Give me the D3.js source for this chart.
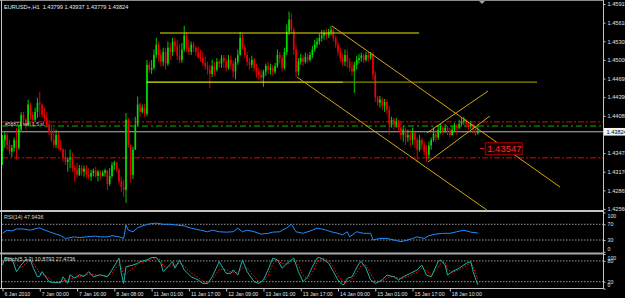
<!DOCTYPE html>
<html><head><meta charset="utf-8">
<script src="https://d3js.org/d3.v7.min.js"></script>
<style>
body{margin:0;background:#000;overflow:hidden}
svg{display:block}
text{font-family:"Liberation Sans",Arial,sans-serif}
</style></head><body>
<svg id="chart" width="625" height="298"></svg>
<script>
// EURUSD+ H1, one value per hourly bar (open = previous close)
var firstOpen = 1.4350
var closes = [
 1.4369,1.4377,1.4361,1.4350,1.4356,1.4369,1.4356,1.4386,1.4410,1.4402,
 1.4394,1.4427,1.4410,1.4402,1.4415,1.4430,1.4427,1.4410,1.4405,1.4394,
 1.4382,1.4369,1.4361,1.4377,1.4356,1.4353,1.4340,1.4333,1.4337,1.4340,
 1.4323,1.4320,1.4312,1.4323,1.4317,1.4322,1.4312,1.4309,1.4315,1.4319,
 1.4310,1.4317,1.4310,1.4315,1.4319,1.4297,1.4310,1.4328,1.4332,1.4320,
 1.4301,1.4292,1.4287,1.4402,1.4361,1.4312,1.4353,1.4394,1.4427,1.4415,
 1.4422,1.4412,1.4492,1.4484,1.4487,1.4508,1.4525,1.4508,1.4497,1.4513,
 1.4494,1.4520,1.4513,1.4530,1.4523,1.4507,1.4500,1.4517,1.4540,1.4520,
 1.4513,1.4525,1.4520,1.4513,1.4505,1.4503,1.4495,1.4489,1.4484,1.4477,
 1.4490,1.4484,1.4497,1.4494,1.4503,1.4497,1.4487,1.4500,1.4494,1.4481,
 1.4497,1.4508,1.4536,1.4520,1.4508,1.4497,1.4492,1.4500,1.4487,1.4481,
 1.4476,1.4471,1.4481,1.4490,1.4484,1.4487,1.4481,1.4490,1.4508,1.4503,
 1.4487,1.4513,1.4546,1.4566,1.4549,1.4517,1.4481,1.4497,1.4503,1.4497,
 1.4505,1.4500,1.4508,1.4517,1.4525,1.4530,1.4536,1.4540,1.4544,1.4540,
 1.4546,1.4549,1.4536,1.4525,1.4513,1.4503,1.4497,1.4508,1.4497,1.4487,
 1.4481,1.4492,1.4500,1.4503,1.4507,1.4500,1.4508,1.4503,1.4510,1.4476,
 1.4438,1.4430,1.4435,1.4425,1.4431,1.4418,1.4394,1.4402,1.4394,1.4399,
 1.4389,1.4377,1.4386,1.4373,1.4377,1.4369,1.4381,1.4369,1.4353,1.4369,
 1.4361,1.4350,1.4345,1.4360,1.4369,1.4379,1.4373,1.4386,1.4389,1.4384,
 1.4389,1.4384,1.4377,1.4386,1.4392,1.4389,1.4395,1.4399,1.4402,1.4395,
 1.4391,1.4395,1.4386,1.43799,1.43824]
var highs = [
 1.4377,1.4382,1.4381,1.4369,1.4361,1.4373,1.4389,1.4394,1.4415,1.4415,
 1.4405,1.4435,1.4430,1.4415,1.4422,1.4438,1.4448,1.4427,1.4422,1.4415,
 1.4402,1.4394,1.4389,1.4386,1.4382,1.4369,1.4356,1.4353,1.4340,1.4353,
 1.4348,1.4328,1.4332,1.4328,1.4328,1.4327,1.4328,1.4323,1.4320,1.4322,
 1.4325,1.4320,1.4319,1.4319,1.4322,1.4320,1.4323,1.4333,1.4335,1.4333,
 1.4323,1.4309,1.4304,1.4413,1.4405,1.4361,1.4358,1.4407,1.4440,1.4430,
 1.4427,1.4428,1.4500,1.4497,1.4500,1.4517,1.4536,1.4530,1.4517,1.4520,
 1.4520,1.4530,1.4528,1.4536,1.4536,1.4533,1.4526,1.4528,1.4556,1.4546,
 1.4533,1.4530,1.4530,1.4523,1.4522,1.4517,1.4513,1.4505,1.4497,1.4492,
 1.4500,1.4497,1.4503,1.4500,1.4508,1.4508,1.4503,1.4508,1.4507,1.4500,
 1.4503,1.4517,1.4546,1.4544,1.4525,1.4513,1.4503,1.4507,1.4503,1.4494,
 1.4487,1.4484,1.4484,1.4494,1.4497,1.4494,1.4492,1.4495,1.4517,1.4513,
 1.4508,1.4520,1.4558,1.4579,1.4576,1.4553,1.4525,1.4503,1.4510,1.4508,
 1.4512,1.4510,1.4513,1.4523,1.4533,1.4536,1.4543,1.4549,1.4549,1.4551,
 1.4551,1.4556,1.4553,1.4540,1.4530,1.4520,1.4510,1.4517,1.4517,1.4503,
 1.4497,1.4497,1.4507,1.4510,1.4512,1.4510,1.4513,1.4513,1.4513,1.4513,
 1.4481,1.4441,1.4441,1.4438,1.4436,1.4435,1.4425,1.4407,1.4405,1.4405,
 1.4402,1.4399,1.4392,1.4389,1.4386,1.4386,1.4389,1.4382,1.4373,1.4377,
 1.4373,1.4366,1.4361,1.4366,1.4373,1.4389,1.4386,1.4392,1.4395,1.4392,
 1.4395,1.4392,1.4389,1.4392,1.4397,1.4395,1.4402,1.4405,1.4407,1.4404,
 1.4399,1.4400,1.4395,1.4392,1.43937]
var lows = [
 1.4328,1.4356,1.4353,1.4345,1.4341,1.4350,1.4337,1.4353,1.4382,1.4394,
 1.4386,1.4391,1.4402,1.4394,1.4399,1.4405,1.4407,1.4405,1.4399,1.4389,
 1.4377,1.4366,1.4356,1.4356,1.4353,1.4350,1.4333,1.4328,1.4317,1.4323,
 1.4317,1.4301,1.4307,1.4310,1.4310,1.4309,1.4307,1.4305,1.4302,1.4309,
 1.4307,1.4301,1.4304,1.4309,1.4309,1.4287,1.4294,1.4307,1.4320,1.4317,
 1.4296,1.4284,1.4276,1.4266,1.4356,1.4299,1.4305,1.4353,1.4391,1.4407,
 1.4412,1.4407,1.4408,1.4479,1.4477,1.4484,1.4503,1.4497,1.4489,1.4490,
 1.4484,1.4490,1.4500,1.4507,1.4513,1.4500,1.4495,1.4495,1.4513,1.4513,
 1.4508,1.4508,1.4513,1.4507,1.4502,1.4497,1.4490,1.4484,1.4476,1.4454,
 1.4472,1.4474,1.4481,1.4487,1.4487,1.4487,1.4481,1.4484,1.4484,1.4471,
 1.4468,1.4492,1.4507,1.4517,1.4503,1.4490,1.4484,1.4487,1.4481,1.4471,
 1.4468,1.4464,1.4456,1.4474,1.4477,1.4476,1.4474,1.4477,1.4487,1.4494,
 1.4481,1.4484,1.4508,1.4541,1.4544,1.4508,1.4472,1.4474,1.4492,1.4490,
 1.4494,1.4495,1.4497,1.4503,1.4513,1.4520,1.4525,1.4530,1.4533,1.4533,
 1.4536,1.4540,1.4530,1.4520,1.4507,1.4497,1.4490,1.4490,1.4487,1.4481,
 1.4474,1.4446,1.4484,1.4494,1.4497,1.4495,1.4497,1.4497,1.4500,1.4468,
 1.4431,1.4425,1.4422,1.4418,1.4415,1.4412,1.4377,1.4389,1.4386,1.4389,
 1.4382,1.4369,1.4366,1.4361,1.4366,1.4359,1.4361,1.4356,1.4332,1.4350,
 1.4353,1.4343,1.4333,1.4337,1.4353,1.4366,1.4366,1.4369,1.4379,1.4377,
 1.4381,1.4377,1.4373,1.4376,1.4382,1.4377,1.4386,1.4391,1.4394,1.4389,
 1.4386,1.4387,1.4379,1.4376,1.43779]

// RSI(14), read at these bar indices
var rsiIdx = [0,2,4,6,9,12,15,16,17,20,23,25,27,29,31,33,36,40,42,45,47,50,52,53,54,56,58,60,63,66,69,72,75,78,81,85,88,90,93,96,99,101,103,105,108,111,114,116,119,122,124,126,129,132,135,137,139,141,144,146,148,149,152,155,158,159,162,165,168,171,174,176,178,181,183,186,189,192,195,198,201,204]
var rsiVal = [47,55,53,58,58,55,60,61,58,51,45,41,34,36,38,36,38,40,38,38,41,38,34,68,55,51,61,66,71,73,70,70,68,66,60,55,51,55,51,50,51,60,51,55,51,45,47,50,51,61,70,51,47,53,60,58,55,51,47,43,51,38,51,47,47,30,34,34,30,26,30,34,38,34,41,45,47,47,51,55,50,47.9436]

// Stochastic(5,3,3): main and signal
var stochIdx = [0,1,4,6,8,10,12,13,15,16,17,20,22,25,26,28,29,31,33,35,37,39,42,45,47,50,51,52,53,56,58,59,62,64,66,68,69,71,73,74,76,78,81,84,86,88,90,93,96,98,99,101,103,105,108,110,112,114,116,118,120,123,125,127,129,131,133,135,136,138,140,142,144,146,147,148,150,153,154,156,158,160,163,165,168,170,172,175,178,180,182,184,187,188,190,191,193,196,199,201,202,204]
var stochMain = [68,88,88,49,68,83,83,63,34,36,49,20,17,17,34,15,40,30,40,35,49,34,40,34,54,88,44,15,63,68,73,78,83,90,90,73,49,63,78,59,83,54,34,25,15,15,34,78,44,44,54,39,83,49,20,15,25,54,88,83,59,78,88,49,20,34,63,88,90,83,73,49,25,10,15,30,34,73,78,59,25,15,25,39,34,25,34,44,54,68,39,34,78,83,68,39,49,59,73,78,49,10.8793]
var stochSignal = [75,80,86,70,60,72,80,76,55,44,42,30,20,17,24,22,28,32,35,37,42,40,38,37,45,70,62,40,42,60,70,74,80,86,89,82,66,60,68,67,74,65,45,32,22,16,24,55,55,48,48,45,60,60,35,20,20,38,70,82,72,72,82,68,38,28,45,75,85,87,80,62,38,20,16,20,28,55,68,68,42,22,20,30,36,30,30,38,48,60,52,40,60,72,76,55,46,54,66,74,64,27.4736]

// axes
var priceTicks = [1.45915,1.45610,1.45305,1.45000,1.44695,1.44390,1.44085,1.43475,1.43170,1.42865,1.42560]
var timeIdx = [0,16,32,48,64,80,96,112,128,144,160,176,192]
var timeLabels = ['6 Jan 2010','7 Jan 00:00','7 Jan 16:00','8 Jan 08:00','11 Jan 01:00','11 Jan 17:00','12 Jan 09:00','13 Jan 01:00','13 Jan 17:00','14 Jan 09:00','15 Jan 01:00','15 Jan 17:00','18 Jan 10:00']
var quote = {bid: 1.43824, open: 1.43799, high: 1.43937, low: 1.43779}

// drawn objects (bar index, price)
var hLines = [
  {i1: 67.6, i2: 178.8, price: 1.45440, kind: 'bright'},
  {i1: 62, i2: 146.1, price: 1.44638, kind: 'bright'},
  {i1: 146.1, i2: 229.4, price: 1.44638, kind: 'dim'}
]
var trendLines = [
  {i1: 141.4, p1: 1.45555, i2: 239.3, p2: 1.42920},
  {i1: 126.4, p1: 1.44720, i2: 207.9, p2: 1.42544},
  {i1: 182.2, p1: 1.43804, i2: 208.4, p2: 1.44491},
  {i1: 182.6, p1: 1.43329, i2: 209.2, p2: 1.44082}
]
var stopLevels = [1.43989, 1.43399]
var entryLevel = 1.43918
var priceMark = {i: 207.6, price: 1.43547}

var svg = d3.select('#chart')
var W = 625, H = 298, right = 603.5

var x = d3.scaleLinear().domain([0, 204]).range([2.5, 477.8])
var y = d3.scaleLinear().domain([1.42560, 1.45915]).range([209, 4])
var yR = d3.scaleLinear().domain([0, 100]).range([251.8, 212.5])
var yS = d3.scaleLinear().domain([0, 100]).range([288.6, 254])

svg.append('rect').attr('width', W).attr('height', H).attr('fill', '#000')

svg.append('clipPath').attr('id', 'mainClip')
  .append('rect').attr('x', 2).attr('y', 2).attr('width', right - 2).attr('height', 208)

var main = svg.append('g').attr('clip-path', 'url(#mainClip)')

// order lines
main.selectAll('line.sl').data(stopLevels).join('line')
  .attr('x1', 2).attr('x2', right).attr('y1', d => y(d)).attr('y2', d => y(d))
  .attr('stroke', '#9a0000').attr('stroke-width', 1.6).attr('stroke-dasharray', '6,2,2,2')
main.append('line')
  .attr('x1', 2).attr('x2', right).attr('y1', y(entryLevel)).attr('y2', y(entryLevel))
  .attr('stroke', '#00c000').attr('stroke-width', 1.2).attr('stroke-dasharray', '6,3,2,3')
main.append('line')
  .attr('x1', 2).attr('x2', right).attr('y1', y(quote.bid)).attr('y2', y(quote.bid))
  .attr('stroke', '#b4b8c4').attr('stroke-width', 1)

// candles
var up = '#00e000', down = '#f00000'
var bars = closes.map((c, i) => ({i, o: i ? closes[i - 1] : firstOpen, h: highs[i], l: lows[i], c}))
main.selectAll('line.wick').data(bars).join('line')
  .attr('x1', d => x(d.i)).attr('x2', d => x(d.i))
  .attr('y1', d => y(d.h)).attr('y2', d => y(d.l))
  .attr('stroke', d => d.c >= d.o ? up : down).attr('stroke-width', 0.9)
main.selectAll('rect.body').data(bars).join('rect')
  .attr('x', d => x(d.i) - 0.8).attr('width', 1.6)
  .attr('y', d => y(Math.max(d.o, d.c)))
  .attr('height', d => Math.max(0.8, Math.abs(y(d.o) - y(d.c))))
  .attr('fill', d => d.c >= d.o ? up : down)

// horizontal and trend lines
main.selectAll('line.h').data(hLines).join('line')
  .attr('x1', d => x(d.i1)).attr('x2', d => x(d.i2))
  .attr('y1', d => y(d.price)).attr('y2', d => y(d.price))
  .attr('stroke', d => d.kind == 'bright' ? '#e6e600' : '#8c8c00').attr('stroke-width', 1.2)
main.selectAll('line.t').data(trendLines).join('line')
  .attr('x1', d => x(d.i1)).attr('x2', d => x(d.i2))
  .attr('y1', d => y(d.p1)).attr('y2', d => y(d.p2))
  .attr('stroke', '#d2a416').attr('stroke-width', 1)

// price mark label
var pmx = x(priceMark.i), pmy = y(priceMark.price)
main.append('line').attr('x1', pmx - 6).attr('x2', pmx - 2).attr('y1', pmy).attr('y2', pmy)
  .attr('stroke', '#ff2020').attr('stroke-width', 1)
main.append('rect').attr('x', pmx - 1).attr('y', pmy - 6).attr('width', 37).attr('height', 12)
  .attr('fill', '#1a0000').attr('stroke', '#a00000').attr('stroke-width', 1)
main.append('text').attr('x', pmx + 1).attr('y', pmy + 3.5)
  .attr('font-size', 9.5).attr('fill', '#ff2a2a').text(d3.format('.5f')(priceMark.price))

main.append('text').attr('x', 5).attr('y', y(entryLevel) - 0.5)
  .attr('font-size', 5).attr('fill', '#d0d0d0').text('#58871 sell 1.5 sl')

// header
svg.append('text').attr('x', 4).attr('y', 9).attr('font-size', 5.6).attr('fill', '#e8e8e8')
  .attr('xml:space', 'preserve')
  .text('EURUSD+,H1  ' + [quote.open, quote.high, quote.low, quote.bid].map(d3.format('.5f')).join(' '))

// RSI
svg.selectAll('line.rl').data([70, 30]).join('line')
  .attr('x1', 2).attr('x2', right).attr('y1', d => yR(d)).attr('y2', d => yR(d))
  .attr('stroke', '#bdbdbd').attr('stroke-width', 0.8).attr('stroke-dasharray', '1.5,1.5')
svg.append('path').datum(rsiIdx.map((d, k) => [d, rsiVal[k]]))
  .attr('fill', 'none').attr('stroke', '#1e8cff').attr('stroke-width', 1)
  .attr('d', d3.line().x(d => x(d[0])).y(d => yR(d[1])))
svg.append('text').attr('x', 4).attr('y', 219).attr('font-size', 5.4).attr('fill', '#d8d8d8')
  .text('RSI(14) ' + rsiVal[rsiVal.length - 1].toFixed(4))

// Stochastic
svg.selectAll('line.sl2').data([80, 20]).join('line')
  .attr('x1', 2).attr('x2', right).attr('y1', d => yS(d)).attr('y2', d => yS(d))
  .attr('stroke', '#bdbdbd').attr('stroke-width', 0.8).attr('stroke-dasharray', '1.5,1.5')
svg.append('path').datum(stochIdx.map((d, k) => [d, stochSignal[k]]))
  .attr('fill', 'none').attr('stroke', '#ff1010').attr('stroke-width', 1).attr('stroke-dasharray', '1.5,1.5')
  .attr('d', d3.line().x(d => x(d[0])).y(d => yS(d[1])))
svg.append('path').datum(stochIdx.map((d, k) => [d, stochMain[k]]))
  .attr('fill', 'none').attr('stroke', '#22b2a8').attr('stroke-width', 1)
  .attr('d', d3.line().x(d => x(d[0])).y(d => yS(d[1])))
svg.append('text').attr('x', 4).attr('y', 261).attr('font-size', 5.4).attr('fill', '#d8d8d8')
  .text('Stoch(5,3,3) ' + stochMain[stochMain.length - 1].toFixed(4) + ' ' + stochSignal[stochSignal.length - 1].toFixed(4))

// frame
var frame = '#c4c4c4'
svg.append('line').attr('x1', 0).attr('x2', right).attr('y1', 0.5).attr('y2', 0.5).attr('stroke', '#8a8a8a')
svg.append('line').attr('x1', 1.5).attr('x2', 1.5).attr('y1', 0).attr('y2', 289).attr('stroke', frame)
svg.append('rect').attr('x', 0).attr('y', 210).attr('width', right).attr('height', 2).attr('fill', frame)
svg.append('rect').attr('x', 0).attr('y', 252.5).attr('width', right).attr('height', 2).attr('fill', '#a8a8a8')
svg.append('line').attr('x1', 0).attr('x2', right).attr('y1', 288.5).attr('y2', 288.5).attr('stroke', frame)
svg.append('line').attr('x1', right).attr('x2', right).attr('y1', 0).attr('y2', 289).attr('stroke', frame)
svg.append('path').attr('d', 'M479,1 L485,1 L482,4 Z').attr('fill', '#a0a0a0')

// price axis
var axisG = svg.append('g').attr('transform', 'translate(' + right + ',0)')
  .call(d3.axisRight(y).tickValues(priceTicks).tickFormat(d3.format('.5f')).tickSize(2).tickPadding(2))
axisG.select('.domain').remove()
axisG.selectAll('line').attr('stroke', frame)
axisG.selectAll('text').attr('font-size', 5.6).attr('fill', '#e0e0e0').attr('font-family', '"Liberation Sans",Arial,sans-serif')

var bidG = svg.append('g').attr('transform', 'translate(' + right + ',' + y(quote.bid) + ')')
bidG.append('rect').attr('x', 0.5).attr('y', -3.8).attr('width', 22).attr('height', 7.6).attr('fill', '#f4f4f4')
bidG.append('text').attr('x', 3).attr('y', 2.1).attr('font-size', 5.6).attr('fill', '#000').text(d3.format('.5f')(quote.bid))

// indicator scales
function sideLabels(scale, vals, nudge) {
  var g = svg.append('g').attr('transform', 'translate(' + right + ',0)')
    .call(d3.axisRight(scale).tickValues(vals).tickSize(2).tickPadding(2))
  g.select('.domain').remove()
  g.selectAll('line').attr('stroke', frame)
  g.selectAll('text').attr('font-size', 5.2).attr('fill', '#e0e0e0')
    .attr('font-family', '"Liberation Sans",Arial,sans-serif')
    .attr('dy', (d, k) => (0.32 + nudge[k]) + 'em')
}
sideLabels(yR, [100, 70, 30, 0], [0.55, 0, 0, -0.65])
sideLabels(yS, [100, 80, 20, 0], [0.7, 0, 0, -0.8])

// time axis
var tG = svg.append('g').attr('transform', 'translate(0,288.5)')
  .call(d3.axisBottom(x).tickValues(timeIdx).tickFormat((d, k) => timeLabels[k]).tickSize(3).tickPadding(1))
tG.select('.domain').remove()
tG.selectAll('line').attr('stroke', frame)
tG.selectAll('text').attr('font-size', 5.2).attr('fill', '#e0e0e0').attr('text-anchor', 'start')
  .attr('font-family', '"Liberation Sans",Arial,sans-serif').attr('dx', 1.5)
</script>
</body></html>
